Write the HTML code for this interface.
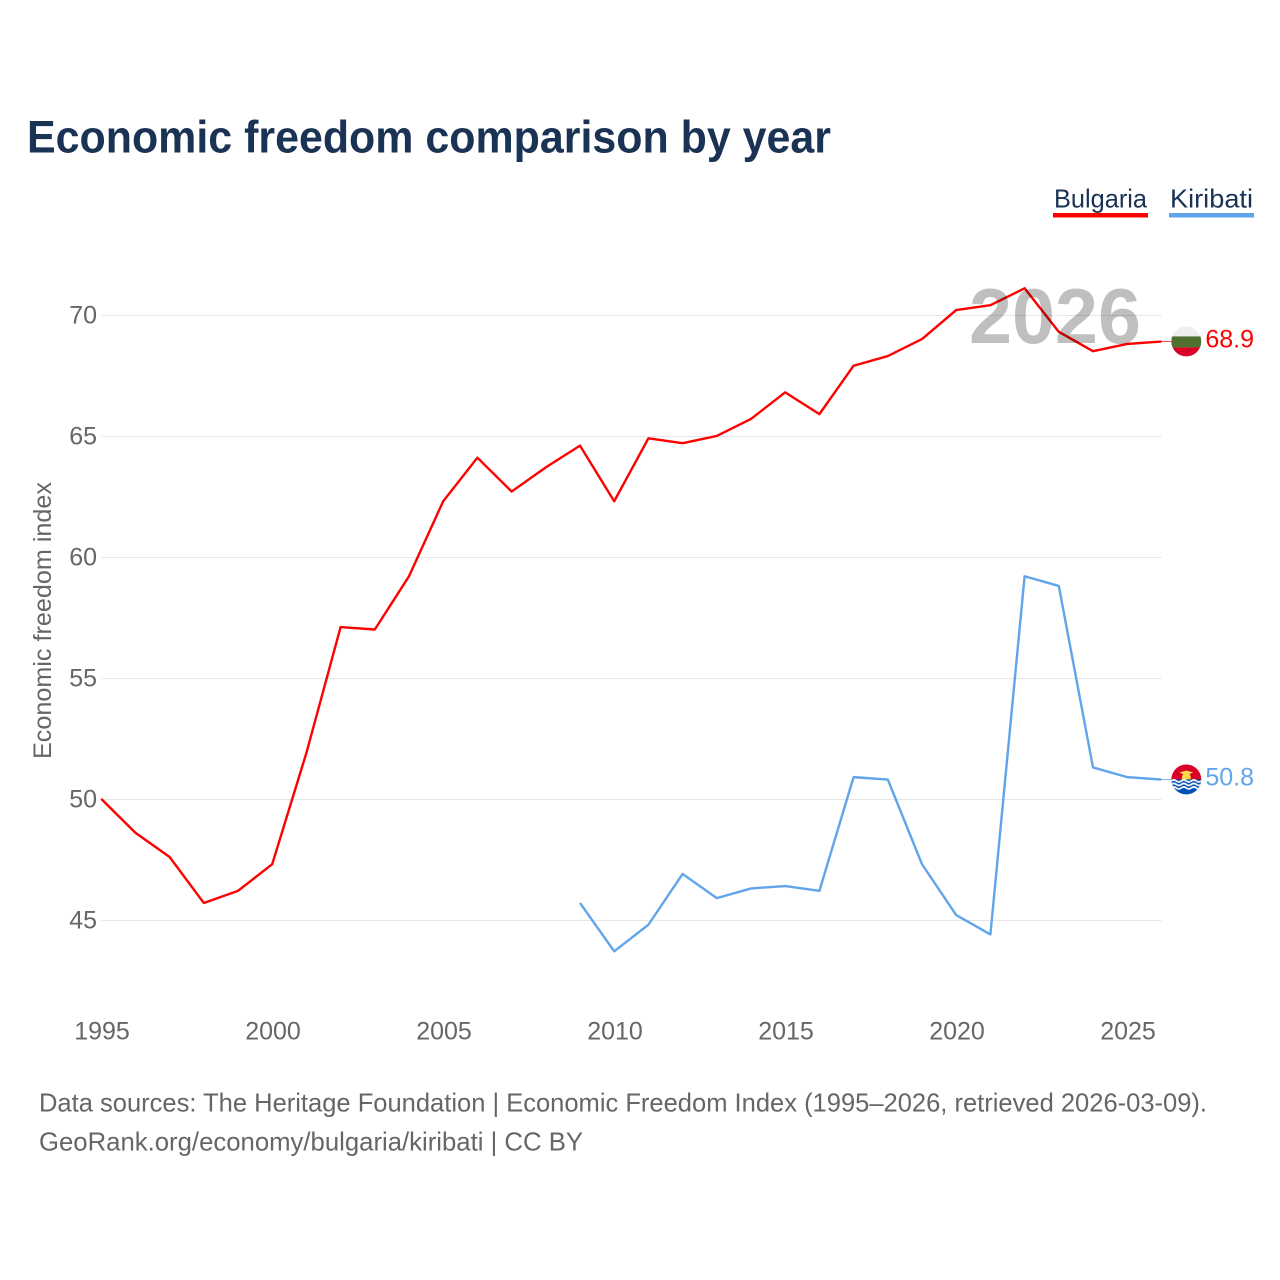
<!DOCTYPE html>
<html lang="en">
<head>
<meta charset="utf-8">
<title>Economic freedom comparison by year</title>
<style>
html,body{margin:0;padding:0;background:#fff;}
svg{display:block;font-family:"Liberation Sans",sans-serif;}
</style>
</head>
<body>
<svg id="chart" xmlns="http://www.w3.org/2000/svg" width="1280" height="1280" viewBox="0 0 1280 1280">
  <defs>
    <clipPath id="clip-bg"><circle cx="15" cy="15" r="15"/></clipPath>
    <clipPath id="clip-ki"><circle cx="15" cy="15" r="15"/></clipPath>
  </defs>
  <rect width="1280" height="1280" fill="#ffffff"/>
  <text x="27" y="152.5" font-size="45" font-weight="700" fill="#1a3253" textLength="804" lengthAdjust="spacingAndGlyphs">Economic freedom comparison by year</text>

  <g>
    <g>
      <text x="1054" y="207.5" font-size="26" fill="#1a3253" textLength="93" lengthAdjust="spacingAndGlyphs">Bulgaria</text>
      <rect x="1053" y="213" width="95" height="4.5" fill="#ff0000"/>
    </g>
    <g>
      <text x="1170" y="207.5" font-size="26" fill="#1a3253" textLength="83" lengthAdjust="spacingAndGlyphs">Kiribati</text>
      <rect x="1169" y="213" width="85" height="4.5" fill="#60a5ea"/>
    </g>
  </g>

  <g id="grid"></g>
  <g id="yticks"></g>
  <g id="xticks"></g>
  <text transform="translate(51,759) rotate(-90)" font-size="25" fill="#666666" textLength="277" lengthAdjust="spacingAndGlyphs">Economic freedom index</text>
  <g id="series"></g>
  <text x="969" y="343" font-size="78" font-weight="700" fill="#000000" fill-opacity="0.25" textLength="172" lengthAdjust="spacingAndGlyphs">2026</text>

  <g id="flag-bulgaria" clip-path="url(#clip-bg)">
    <rect width="30" height="10.5" fill="#eeeeee"/>
    <rect y="10" width="30" height="11" fill="#4f702e"/>
    <rect y="21" width="30" height="9" fill="#d80027"/>
  </g>
  <g id="flag-kiribati" clip-path="url(#clip-ki)">
    <rect width="30" height="17" fill="#d80027"/>
    <circle cx="15" cy="13" r="4.5" fill="#ffda44"/>
    <path d="M8 8 L15 6 L22 8 L17 10 L13 10 Z" fill="#ffda44"/>
    <rect y="15" width="30" height="15" fill="#0052b4"/>
    <path d="M0 16.5 q2.5 -2 5 0 t5 0 t5 0 t5 0 t5 0 t5 0" fill="none" stroke="#f0f0f0" stroke-width="1.8"/>
    <path d="M0 20 q2.5 -2 5 0 t5 0 t5 0 t5 0 t5 0 t5 0" fill="none" stroke="#f0f0f0" stroke-width="1.8"/>
    <path d="M0 23.5 q2.5 -2 5 0 t5 0 t5 0 t5 0 t5 0 t5 0" fill="none" stroke="#f0f0f0" stroke-width="1.8"/>
  </g>

  <text x="39" y="1111.5" font-size="26" fill="#666666" textLength="1168" lengthAdjust="spacingAndGlyphs">Data sources: The Heritage Foundation | Economic Freedom Index (1995–2026, retrieved 2026-03-09).</text>
  <text x="39" y="1150.5" font-size="26" fill="#666666" textLength="544" lengthAdjust="spacingAndGlyphs">GeoRank.org/economy/bulgaria/kiribati | CC BY</text>
</svg>
<script>
const years = [1995,1996,1997,1998,1999,2000,2001,2002,2003,2004,2005,2006,2007,2008,2009,2010,2011,2012,2013,2014,2015,2016,2017,2018,2019,2020,2021,2022,2023,2024,2025,2026];
const bulgaria = [50.0,48.6,47.6,45.7,46.2,47.3,51.9,57.1,57.0,59.2,62.3,64.1,62.7,63.7,64.6,62.3,64.9,64.7,65.0,65.7,66.8,65.9,67.9,68.3,69.0,70.2,70.4,71.1,69.3,68.5,68.8,68.9];
const kiribatiYears = [2009,2010,2011,2012,2013,2014,2015,2016,2017,2018,2019,2020,2021,2022,2023,2024,2025,2026];
const kiribati = [45.7,43.7,44.8,46.9,45.9,46.3,46.4,46.2,50.9,50.8,47.3,45.2,44.4,59.2,58.8,51.3,50.9,50.8];
const yTickValues = [45,50,55,60,65,70];
const xTickValues = [1995,2000,2005,2010,2015,2020,2025];

const NS = 'http://www.w3.org/2000/svg';
const xScale = function (year) { return 101.2 + (year - 1995) * 34.2; };
const yScale = function (value) { return 919.9 - (value - 45) * 24.2; };
const svg = document.getElementById('chart');

function make(tag, parent, attrs, text) {
  const node = document.createElementNS(NS, tag);
  Object.keys(attrs).forEach(function (k) { node.setAttribute(k, attrs[k]); });
  if (text !== undefined) node.textContent = text;
  parent.appendChild(node);
  return node;
}

yTickValues.forEach(function (v) {
  const line = make('line', document.getElementById('grid'), { x1: 101.5, x2: 1161.5, y1: yScale(v) + 0.6, y2: yScale(v) + 0.6, stroke: '#e6e6e6', 'stroke-width': 1 });
  
  
  const label = make('text', document.getElementById('yticks'), { x: 97, y: yScale(v) + 8.6, 'text-anchor': 'end', 'font-size': 25, fill: '#666666' }, String(v));
  
  
});

xTickValues.forEach(function (y) {
  const label = make('text', document.getElementById('xticks'), { x: xScale(y) + 0.8, y: 1039.5, 'text-anchor': 'middle', 'font-size': 25, fill: '#666666' }, String(y));
  
  
});

function pointsFor(xs, vs) {
  return xs.map(function (x, i) { return xScale(x).toFixed(2) + ',' + yScale(vs[i]).toFixed(2); }).join(' ');
}

const seriesGroup = document.getElementById('series');
const lineBulgaria = make('polyline', seriesGroup, { points: pointsFor(years, bulgaria), fill: 'none', stroke: '#ff0000', 'stroke-width': 2.4, 'stroke-linejoin': 'round' });


const lineKiribati = make('polyline', seriesGroup, { points: pointsFor(kiribatiYears, kiribati), fill: 'none', stroke: '#60a5ea', 'stroke-width': 2.4, 'stroke-linejoin': 'round' });



const lastBulgaria = bulgaria[bulgaria.length - 1];
const lastKiribati = kiribati[kiribati.length - 1];

const connectorBulgaria = make('line', seriesGroup, { x1: 1161, x2: 1172, y1: yScale(lastBulgaria), y2: yScale(lastBulgaria), stroke: '#ff0000', 'stroke-width': 1, 'stroke-opacity': 0.7 });


const connectorKiribati = make('line', seriesGroup, { x1: 1161, x2: 1172, y1: yScale(lastKiribati), y2: yScale(lastKiribati), stroke: '#60a5ea', 'stroke-width': 1, 'stroke-opacity': 0.8 });



document.getElementById('flag-bulgaria').setAttribute('transform', 'translate(1171.3,' + (yScale(lastBulgaria) - 15.1) + ')');
document.getElementById('flag-kiribati').setAttribute('transform', 'translate(1171.3,' + (yScale(lastKiribati) - 15.1) + ')');

const valueBulgaria = make('text', svg, { x: 1254, y: yScale(lastBulgaria) + 5.8, 'text-anchor': 'end', 'font-size': 25, fill: '#ff0000' }, lastBulgaria.toFixed(1));


const valueKiribati = make('text', svg, { x: 1254, y: yScale(lastKiribati) + 5.8, 'text-anchor': 'end', 'font-size': 25, fill: '#60a5ea' }, lastKiribati.toFixed(1));


</script>
</body>
</html>
